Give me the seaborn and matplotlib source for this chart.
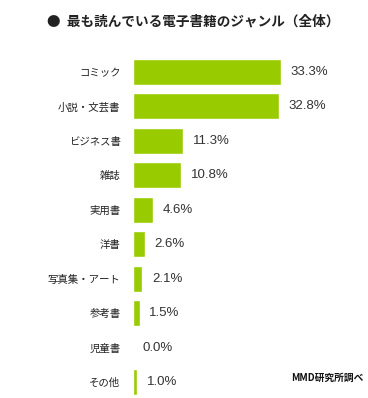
import seaborn as sns
import matplotlib.pyplot as plt
import pandas as pd

# ジャンルと割合
genres = ["コミック", "小説・文芸書", "ビジネス書", "雑誌", "実用書", "洋書",
          "写真集・アート", "参考書", "児童書", "その他"]
shares = [33.3, 32.8, 11.3, 10.8, 4.6, 2.6, 2.1, 1.5, 0.0, 1.0]
title = "最も読んでいる電子書籍のジャンル（全体）"
source = "MMD研究所調べ"

df = pd.DataFrame({"genre": genres, "share": shares})

sns.set_style("white")
plt.rcParams['font.family'] = ['Noto Sans CJK JP', 'DejaVu Sans']

fig = plt.figure(figsize=(3.68, 3.98), dpi=100)
ax = fig.add_axes([0.3614, 0.00126, 0.4826, 0.861])

sns.barplot(data=df, x="share", y="genre", orient="h", color="#99CC00",
            saturation=1, width=0.755, ax=ax)

ax.set_xlim(0, 40)
ax.set_ylim(9.45, -0.5)
for s in ax.spines.values():
    s.set_visible(False)
ax.set_xticks([])
ax.set_xlabel("")
ax.set_ylabel("")
ax.tick_params(axis="y", length=0, pad=9, labelsize=7.5, labelcolor="#222222")

for i, v in enumerate(shares):
    ax.annotate(f"{v:.1f}%", (v, i), xytext=(7, 0), textcoords="offset points",
                va="center", ha="left", fontsize=9.5, color="#333333",
                family=["Liberation Sans", "DejaVu Sans"])

fig.text(47 / 368, 1 - 22 / 398, "●  " + title, fontsize=9.8, fontweight="bold",
         va="center", ha="left", color="#222222")
fig.text(291 / 368, 1 - 378 / 398, source, fontsize=7, fontweight="bold",
         va="center", ha="left", color="#111111")

fig.savefig("out.png", dpi=100)
